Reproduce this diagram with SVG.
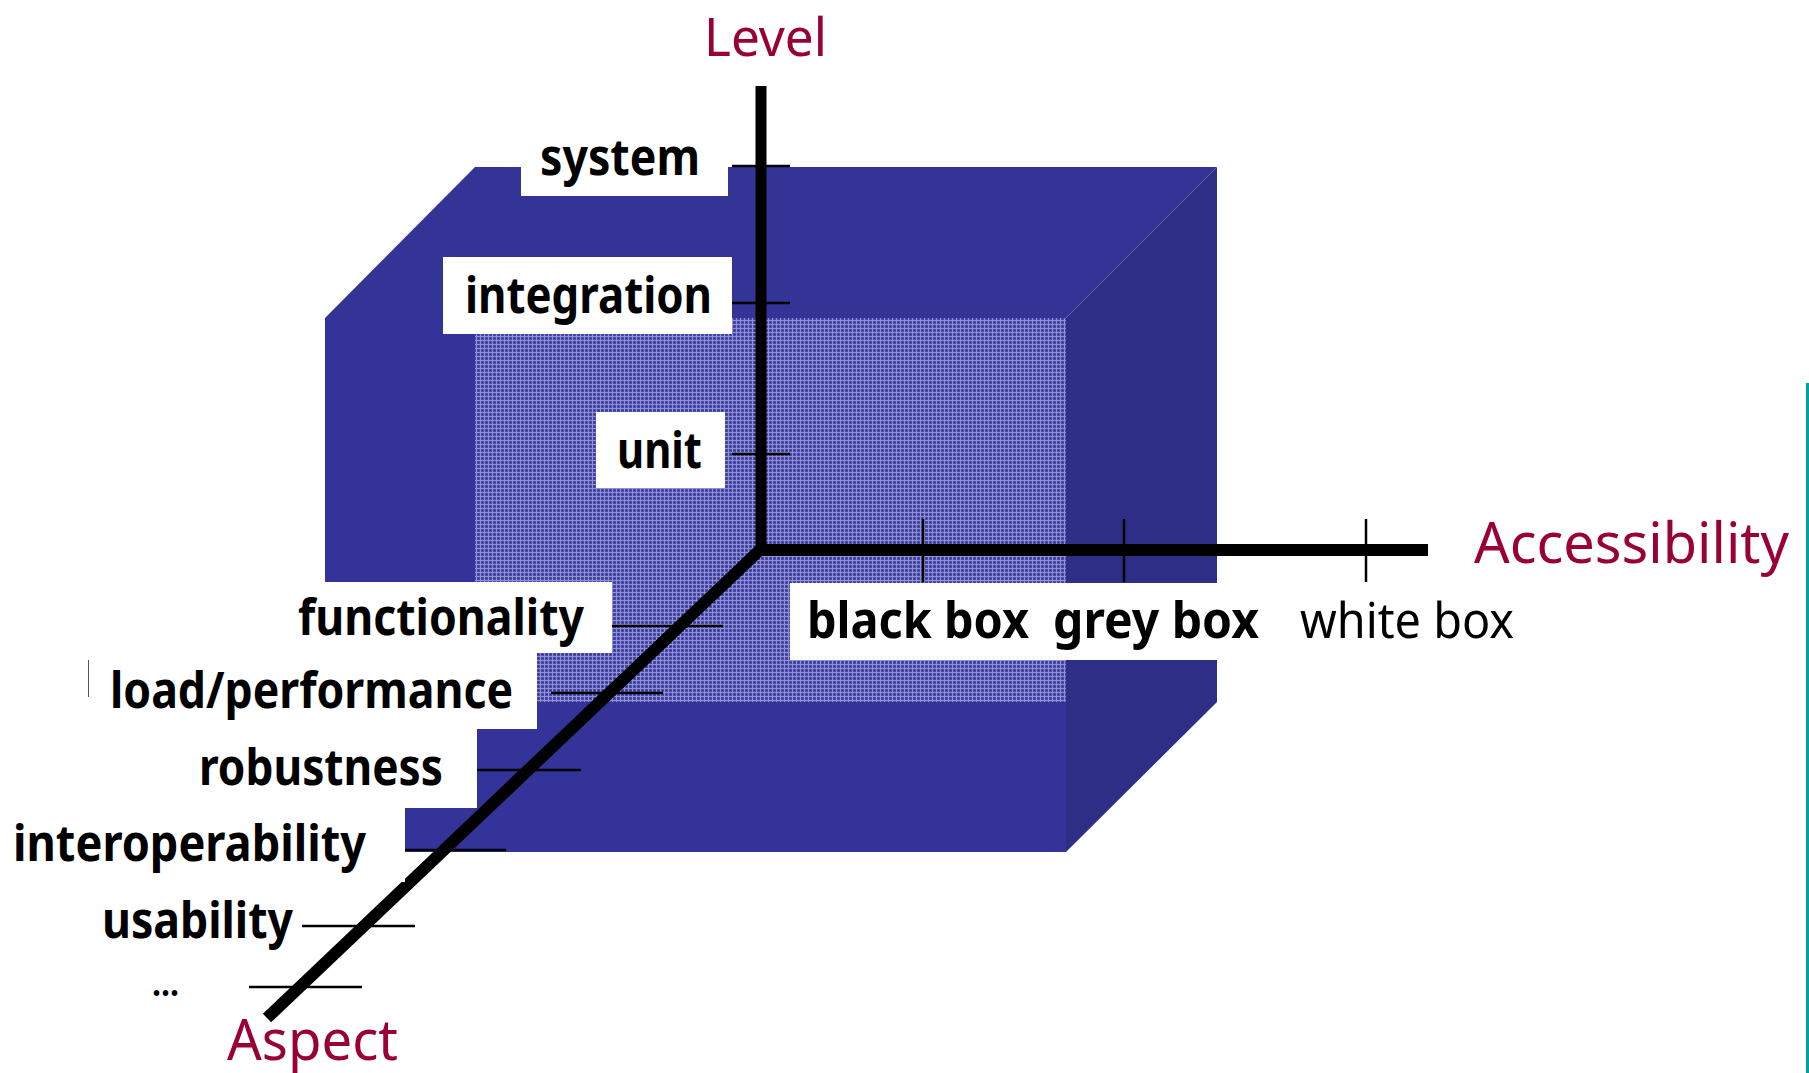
<svg xmlns="http://www.w3.org/2000/svg" width="1809" height="1073" viewBox="0 0 1809 1073">
  <style>
    .lbl { font-family: "Noto Sans", "DejaVu Sans", sans-serif; font-weight: bold; font-size: 50px; fill: #000; }
    .lblr { font-family: "Noto Sans", "DejaVu Sans", sans-serif; font-weight: normal; font-size: 50px; fill: #000; }
    .axn { font-family: "Noto Sans", "DejaVu Sans", sans-serif; font-size: 56px; fill: #990033; }
    .box { fill: #ffffff; }
    .axis { stroke: #000; stroke-width: 11; stroke-linecap: butt; fill: none; }
    .tick { stroke: #000; stroke-width: 2.5; fill: none; }
  </style>
  <defs>
    <pattern id="tex" x="0" y="0" width="4" height="4" patternUnits="userSpaceOnUse">
      <rect width="4" height="4" fill="#4a4aaa"/>
      <rect x="0" y="0" width="4" height="1" fill="#9090d4"/>
      <rect x="0" y="0" width="1" height="4" fill="#9090d4"/>
      <rect x="2" y="2" width="1" height="1" fill="#2c2c80"/>
    </pattern>
  </defs>

  <rect width="1809" height="1073" fill="#ffffff"/>

  <g id="cube">
    <polygon points="475,167 1217,167 1066,318 325,318" fill="#343497"/>
    <polygon points="1217,167 1217,702 1066,852 1066,318" fill="#2e2e86"/>
    <rect x="325" y="318" width="741" height="534" fill="#333399"/>
    <rect x="475" y="318" width="591" height="384" fill="url(#tex)"/>
  </g>

  <g id="connectors">
    <line class="axis" x1="761" y1="86" x2="761" y2="552"/>
    <line class="axis" x1="756" y1="550" x2="1428" y2="550" style="stroke-width:12"/>
    <line class="axis" x1="763" y1="547" x2="267" y2="1018" style="stroke-width:12"/>
    <line class="tick" x1="732" y1="166" x2="790" y2="166"/>
    <line class="tick" x1="732" y1="303" x2="790" y2="303"/>
    <line class="tick" x1="732" y1="454" x2="790" y2="454"/>
    <line class="tick" x1="923" y1="519" x2="923" y2="582"/>
    <line class="tick" x1="1124" y1="519" x2="1124" y2="582"/>
    <line class="tick" x1="1366" y1="519" x2="1366" y2="582"/>
    <line class="tick" x1="612" y1="626" x2="723" y2="626"/>
    <line class="tick" x1="551" y1="693" x2="663" y2="693"/>
    <line class="tick" x1="477" y1="770" x2="581" y2="770"/>
    <line class="tick" x1="405" y1="850" x2="506" y2="850"/>
    <line class="tick" x1="302" y1="926" x2="415" y2="926"/>
    <line class="tick" x1="249" y1="987" x2="362" y2="987"/>
  </g>

  <g id="level-system">
    <rect class="box" x="521" y="129" width="207" height="67"/>
    <text class="lbl" x="540" y="175" textLength="160" lengthAdjust="spacingAndGlyphs">system</text>
  </g>
  <g id="level-integration">
    <rect class="box" x="443" y="257" width="289" height="77"/>
    <text class="lbl" x="465" y="313" textLength="247" lengthAdjust="spacingAndGlyphs">integration</text>
  </g>
  <g id="level-unit">
    <rect class="box" x="596" y="412" width="129" height="76"/>
    <text class="lbl" x="617" y="468" textLength="85" lengthAdjust="spacingAndGlyphs">unit</text>
  </g>

  <g id="aspect-functionality">
    <rect class="box" x="288" y="582" width="324" height="71"/>
    <text class="lbl" x="298" y="635" textLength="286" lengthAdjust="spacingAndGlyphs">functionality</text>
  </g>
  <g id="aspect-load">
    <rect class="box" x="88" y="653" width="449" height="76"/>
    <line x1="88.5" y1="660" x2="88.5" y2="697" stroke="#555" stroke-width="1"/>
    <text class="lbl" x="110" y="708" textLength="403" lengthAdjust="spacingAndGlyphs">load/performance</text>
  </g>
  <g id="aspect-robustness">
    <rect class="box" x="180" y="729" width="297" height="79"/>
    <text class="lbl" x="199" y="785" textLength="244" lengthAdjust="spacingAndGlyphs">robustness</text>
  </g>
  <g id="aspect-interoperability">
    <rect class="box" x="0" y="808" width="405" height="74"/>
    <text class="lbl" x="13" y="861" textLength="353" lengthAdjust="spacingAndGlyphs">interoperability</text>
  </g>
  <g id="aspect-usability">
    <text class="lbl" x="102" y="938" textLength="191" lengthAdjust="spacingAndGlyphs">usability</text>
  </g>
  <g id="aspect-more">
    <text class="lbl" x="152" y="996" textLength="27" lengthAdjust="spacingAndGlyphs" style="font-size:36px">...</text>
  </g>

  <g id="access-black-grey">
    <rect class="box" x="790" y="583" width="472" height="77"/>
    <text class="lbl" x="807" y="638" textLength="222" lengthAdjust="spacingAndGlyphs">black box</text>
    <text class="lbl" x="1053" y="638" textLength="206" lengthAdjust="spacingAndGlyphs">grey box</text>
  </g>
  <g id="access-white">
    <text class="lblr" x="1300" y="638" textLength="214" lengthAdjust="spacingAndGlyphs">white box</text>
  </g>

  <g id="axis-level">
    <text class="axn" x="704" y="56" textLength="123" lengthAdjust="spacingAndGlyphs" style="font-size:52px">Level</text>
  </g>
  <g id="axis-accessibility">
    <text class="axn" x="1474" y="563" textLength="315" lengthAdjust="spacingAndGlyphs">Accessibility</text>
  </g>
  <g id="axis-aspect">
    <text class="axn" x="227" y="1060" textLength="171" lengthAdjust="spacingAndGlyphs">Aspect</text>
  </g>

  <line x1="1807.5" y1="383" x2="1807.5" y2="1073" stroke="#00a0a0" stroke-width="3"/>
</svg>
